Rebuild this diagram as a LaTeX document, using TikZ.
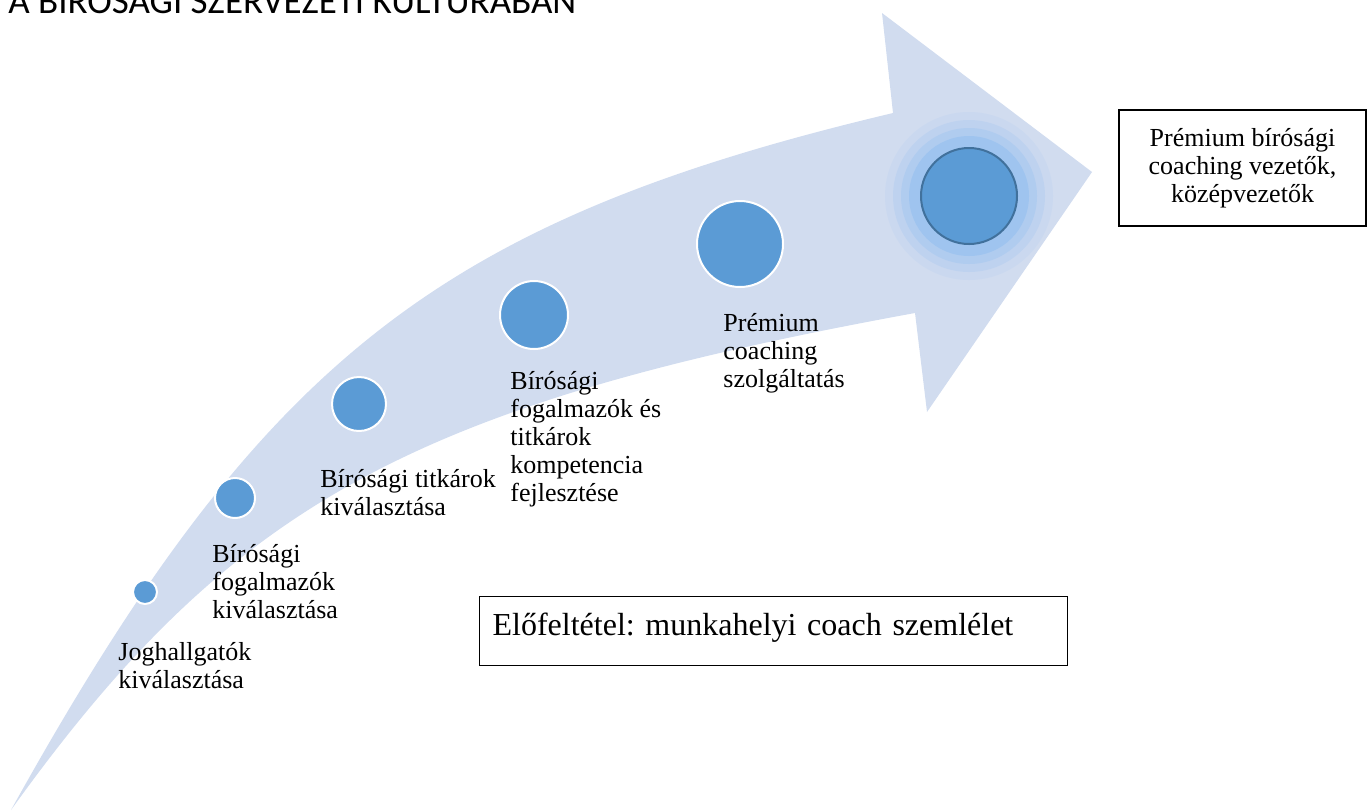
\documentclass[tikz,border=0pt]{standalone}
\usepackage{fontspec}
\setmainfont{Liberation Serif}
\newfontfamily\titlefont{Carlito}
\usepackage{xcolor}
\usepackage{tikz}
\usetikzlibrary{positioning}
\frenchspacing

\definecolor{arrowfill}{RGB}{209,220,239}
\definecolor{dotblue}{RGB}{91,155,213}
\definecolor{dotedge}{RGB}{65,113,156}
\definecolor{glowblue}{RGB}{120,180,240}

\tikzset{
  dot/.style={circle, fill=dotblue, draw=white, line width=1pt, inner sep=0pt},
  steplabel/.style={anchor=north west, inner sep=0pt, align=left,
    font=\fontsize{13}{14}\selectfont},
  framebox/.style={draw=black, line width=0.6pt, inner sep=0pt}
}

\begin{document}
\begin{tikzpicture}[x=0.5pt, y=-0.5pt]
            \useasboundingbox (0,0) rectangle (1368,810);
            \clip (0,0) rectangle (1368,810);
            % title (cut by the page edge)
            \node[anchor=base west, inner sep=0pt, font=\titlefont\fontsize{18.5}{22}\selectfont]
            (title) at (8,13) {A BÍRÓSÁGI SZERVEZETI KULTÚRÁBAN};
            % curved arrow
            \fill[arrowfill] (11,810) .. controls (261,360) and (438,221) .. (893,113)
            -- (882,13) -- (1092,172) -- (927,412) -- (915,313)
            .. controls (411,405) and (230.5,504.4) .. cycle;
            % glow of the last dot
            \foreach \r/\o in {84/0.08, 76/0.14, 68/0.2, 60/0.3}
            \fill[glowblue, opacity=\o] (969,196) circle (\r);
            % dots
            \node[dot, minimum size=12pt] (d1) at (145,592) {};
            \node[dot, minimum size=20pt] (d2) at (235,498) {};
            \node[dot, minimum size=27pt] (d3) at (359,404) {};
            \node[dot, minimum size=34pt] (d4) at (534,315) {};
            \node[dot, minimum size=43pt] (d5) at (740,244) {};
            \node[dot, draw=dotedge, minimum size=48pt] (d6) at (969,196) {};
            % labels
            \node[steplabel] (l1) at (118,642) {Joghallgatók\\kiválasztása};
            \node[steplabel] (l2) at (212,544) {Bírósági\\fogalmazók\\kiválasztása};
            \node[steplabel] (l3) at (320,469) {Bírósági titkárok\\kiválasztása};
            \node[steplabel] (l4) at (510,371) {Bírósági\\fogalmazók és\\titkárok\\kompetencia\\fejlesztése};
            \node[steplabel] (l5) at (723,313) {Prémium\\coaching\\szolgáltatás};
            % boxes
            \node[framebox, minimum width=123.5pt, minimum height=58pt, align=center,
            font=\fontsize{13}{14}\selectfont] (goal) at (1242.5,168)
            {Prémium bírósági\\coaching vezetők,\\középvezetők};
            \node[framebox, anchor=north west, minimum width=294pt, minimum height=34.5pt,
            text width=281pt, inner xsep=6.5pt, align=left, text height=12pt, text depth=7.5pt,
            font=\fontsize{16}{18}\selectfont] (pre) at (479,596)
            {Előfeltétel: munkahelyi coach szemlélet};
        \end{tikzpicture}
\end{document}
